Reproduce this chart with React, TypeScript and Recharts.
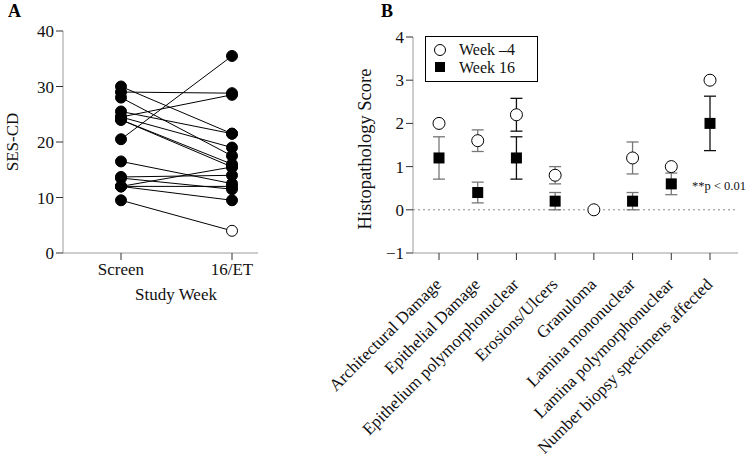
import React from 'react';
import {
  LineChart,
  Line,
  XAxis,
  YAxis,
  ComposedChart,
  Scatter,
  ErrorBar,
  ReferenceLine,
  ReferenceDot,
  Legend,
} from 'recharts';

const FONT = '"Liberation Serif", "DejaVu Serif", serif';

// ---------- Panel A data ----------
const weeksA = ['Screen', '16/ET'];
const screenValues = [30, 29, 28, 25.5, 24.5, 24.5, 24, 24, 20.5, 16.5, 13.7, 13.5, 12, 12, 12, 9.5];
const etValues = [21.5, 28.8, 17.5, 21.5, 28.5, 19, 16, 15.5, 35.5, 12.5, 14, 11.5, 15.5, 12, 9.5, 4];
const openAtET = [false, false, false, false, false, false, false, false, false, false, false, false, false, false, false, true];
const ticksA = [0, 10, 20, 30, 40];

// ---------- Panel B data ----------
const categories = [
  'Architectural Damage',
  'Epithelial Damage',
  'Epithelium polymorphonuclear',
  'Erosions/Ulcers',
  'Granuloma',
  'Lamina mononuclear',
  'Lamina polymorphonuclear',
  'Number biopsy specimens affected',
];
const week4Values = [2.0, 1.6, 2.2, 0.8, 0.0, 1.2, 1.0, 3.0];
const week4Err = [null, 0.25, 0.38, 0.2, null, 0.37, null, null];
const week16Values = [1.2, 0.4, 1.2, 0.2, null, 0.2, 0.6, 2.0];
const week16Err = [0.49, 0.24, 0.49, 0.2, null, 0.2, 0.25, 0.63];
const darkError = [false, false, true, false, false, false, false, true];
const ticksB = [-1, 0, 1, 2, 3, 4];
const pValueText = '**p < 0.01';

const dataA = weeksA.map((w, wi) => {
  const row: Record<string, any> = { week: w };
  screenValues.forEach((s, i) => {
    row['p' + i] = wi === 0 ? s : etValues[i];
  });
  return row;
});

const dataB = categories.map((c, i) => ({
  name: c,
  w4: week4Values[i],
  w16: week16Values[i],
  w4ErrDark: darkError[i] ? week4Err[i] ?? undefined : undefined,
  w4ErrGray: !darkError[i] ? week4Err[i] ?? undefined : undefined,
  w16ErrDark: darkError[i] ? week16Err[i] ?? undefined : undefined,
  w16ErrGray: !darkError[i] ? week16Err[i] ?? undefined : undefined,
}));

const AXIS = '#9a9a9a';
const TICK = '#333';

const RotTick = (props: any) => {
  const { x, y, payload } = props;
  return (
    <g transform={`translate(${x - 5},${y + 15})`}>
      <text
        x={0}
        y={0}
        dy="0.7em"
        textAnchor="end"
        transform="rotate(-45)"
        fontSize={17}
        fontFamily={FONT}
        fill="#111"
      >
        {payload.value}
      </text>
    </g>
  );
};

const LegendBox = () => (
  <svg width={113} height={46} style={{ display: 'block' }}>
    <rect x={0.5} y={0.5} width={112} height={45} fill="#fff" stroke="#000" strokeWidth={1} />
    <circle cx={15} cy={14} r={5.5} fill="#fff" stroke="#000" strokeWidth={1} />
    <text x={34} y={19} fontSize={16} fontFamily={FONT} fill="#111">Week –4</text>
    <rect x={10} y={26} width={10} height={10} fill="#000" />
    <text x={34} y={37} fontSize={16} fontFamily={FONT} fill="#111">Week 16</text>
  </svg>
);

export default function App() {
  return (
    <div style={{ position: 'absolute', left: 0, top: 0, width: 749, height: 457, background: '#fff', fontFamily: FONT }}>
      <div style={{ position: 'absolute', left: 8, top: 1, fontSize: 18, fontWeight: 'bold' }}>A</div>
      <div style={{ position: 'absolute', left: 381, top: 1, fontSize: 18, fontWeight: 'bold' }}>B</div>

      <div style={{ position: 'absolute', left: 0, top: 0 }}>
        <LineChart width={270} height={320} data={dataA} margin={{ top: 31, right: 12, bottom: 17, left: 0 }}>
          <XAxis
            dataKey="week"
            padding={{ left: 58, right: 26 }}
            axisLine={{ stroke: AXIS }}
            tickLine={{ stroke: TICK }}
            tickSize={7}
            tickMargin={3}
            height={50}
            tick={{ fontSize: 17, fontFamily: FONT, fill: '#111' }}
            label={{
              content: (p: any) => (
                <text x={176} y={p.viewBox.y + 47} textAnchor="middle" fontSize={17} fontFamily={FONT} fill="#111">
                  Study Week
                </text>
              ),
            }}
          />
          <YAxis
            domain={[0, 40]}
            ticks={ticksA}
            width={63}
            axisLine={{ stroke: AXIS }}
            tickLine={{ stroke: TICK }}
            tickSize={7}
            tickMargin={2}
            tick={{ fontSize: 17, fontFamily: FONT, fill: '#111' }}
            label={{
              content: () => (
                <text
                  x={18}
                  y={142}
                  transform={`rotate(-90, 18, 142)`}
                  textAnchor="middle"
                  fontSize={17}
                  fontFamily={FONT}
                  fill="#111"
                >
                  SES-CD
                </text>
              ),
            }}
          />
          {screenValues.map((_, i) => (
            <Line
              key={i}
              dataKey={'p' + i}
              stroke="#000"
              strokeWidth={1}
              isAnimationActive={false}
              dot={(d: any) => {
                const open = d.index === 1 && openAtET[i];
                return (
                  <circle
                    key={'d' + i + '-' + d.index}
                    cx={d.cx}
                    cy={d.cy}
                    r={5.5}
                    fill={open ? '#fff' : '#000'}
                    stroke="#000"
                    strokeWidth={1}
                  />
                );
              }}
              activeDot={false}
            />
          ))}
        </LineChart>
      </div>

      <div style={{ position: 'absolute', left: 300, top: 0 }}>
        <ComposedChart width={449} height={457} data={dataB} margin={{ top: 37, right: 11, bottom: 4, left: 0 }}>
          <XAxis
            dataKey="name"
            type="category"
            interval={0}
            padding={{ left: 26, right: 28 }}
            axisLine={{ stroke: AXIS }}
            tickLine={{ stroke: TICK }}
            tickSize={7}
            tickMargin={2}
            height={200}
            tick={<RotTick />}
          />
          <YAxis
            domain={[-1, 4]}
            ticks={ticksB}
            width={113}
            axisLine={{ stroke: AXIS }}
            tickLine={{ stroke: TICK }}
            tickSize={7}
            tickMargin={2}
            tickFormatter={(v: number) => (v < 0 ? '−' + Math.abs(v) : String(v))}
            tick={{ fontSize: 17, fontFamily: FONT, fill: '#111' }}
            label={{
              content: () => (
                <text
                  x={71}
                  y={149}
                  transform={`rotate(-90, 71, 149)`}
                  textAnchor="middle"
                  fontSize={18.5}
                  fontFamily={FONT}
                  fill="#111"
                >
                  Histopathology Score
                </text>
              ),
            }}
          />
          <ReferenceLine y={0} stroke="#888" strokeDasharray="2 3" strokeWidth={1} />
          <Scatter
            dataKey="w16"
            isAnimationActive={false}
            shape={(p: any) =>
              p.cy == null || p.payload.w16 == null ? <g /> : (
                <rect x={p.cx - 5.5} y={p.cy - 5.5} width={11} height={11} fill="#000" />
              )
            }
          >
            <ErrorBar dataKey="w16ErrGray" direction="y" width={6} stroke="#777" strokeWidth={1.3} />
            <ErrorBar dataKey="w16ErrDark" direction="y" width={6} stroke="#111" strokeWidth={1.3} />
          </Scatter>
          <Scatter
            dataKey="w4"
            isAnimationActive={false}
            shape={(p: any) => <circle cx={p.cx} cy={p.cy} r={6} fill="#fff" stroke="#000" strokeWidth={1} />}
          >
            <ErrorBar dataKey="w4ErrGray" direction="y" width={6} stroke="#777" strokeWidth={1.3} />
            <ErrorBar dataKey="w4ErrDark" direction="y" width={6} stroke="#111" strokeWidth={1.3} />
          </Scatter>
          <ReferenceDot
            x={categories[7]}
            y={0.53}
            r={1}
            fill="none"
            stroke="none"
            label={{
              content: (p: any) => (
                <text x={p.viewBox.x - 17} y={p.viewBox.y + 4} fontSize={12.5} fontFamily={FONT} fill="#111">
                  {pValueText}
                </text>
              ),
            }}
          />
          <Legend
            layout="vertical"
            align="center"
            verticalAlign="middle"
            wrapperStyle={{ left: 125, top: 36, width: 113, height: 46 }}
            content={() => <LegendBox />}
          />
        </ComposedChart>
      </div>
    </div>
  );
}
